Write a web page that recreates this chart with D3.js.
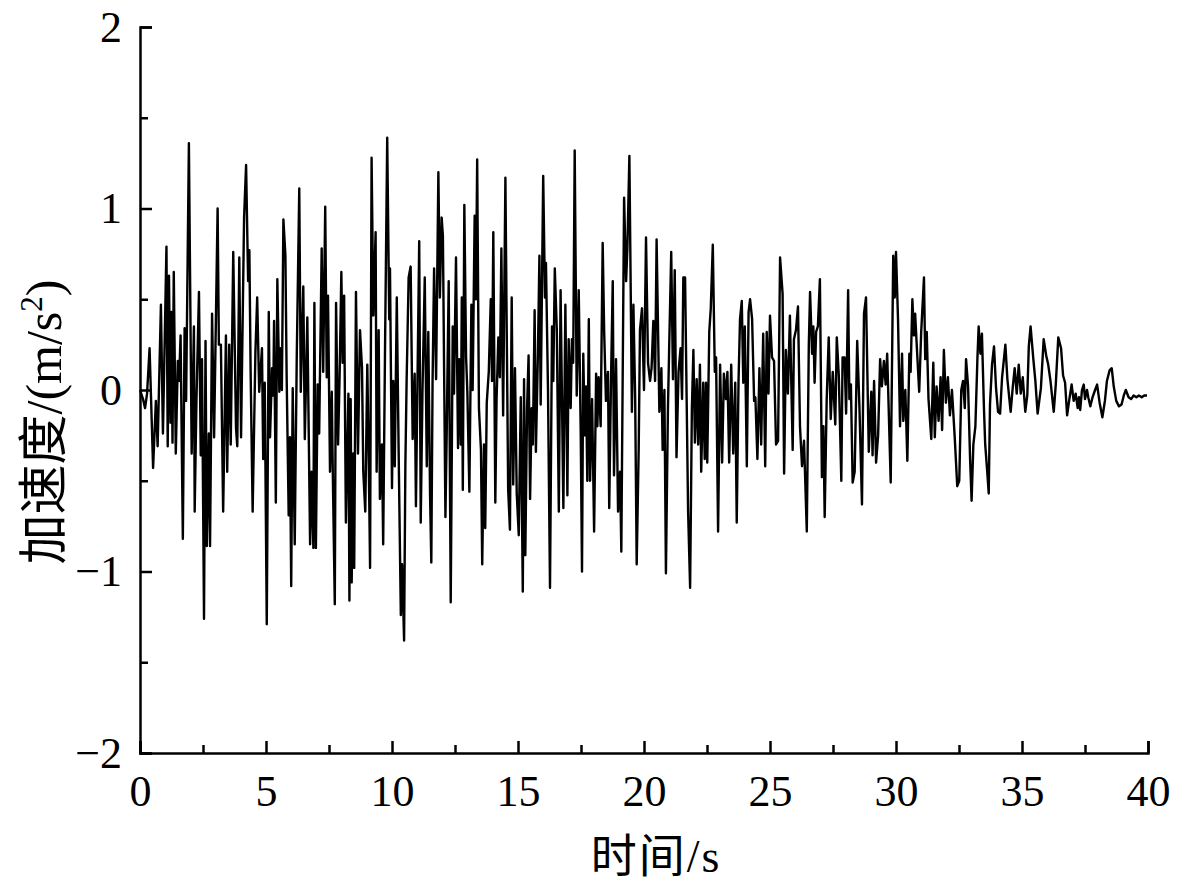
<!DOCTYPE html>
<html>
<head>
<meta charset="utf-8">
<script src="https://cdn.jsdelivr.net/npm/d3@7/dist/d3.min.js"></script>
<style>
  html, body { margin: 0; padding: 0; background: #fff; }
  svg { display: block; }
  .tick text { font-family: "Liberation Serif", "Times New Roman", serif; }
</style>
</head>
<body>
<svg id="chart" width="1184" height="885"></svg>
<script>
// ---- data ----
const time = [
0.00,0.12,0.20,0.28,0.38,0.52,0.63,0.70,0.83,0.91,1.05,1.10,1.15,1.21,1.25,1.29,1.34,1.42,1.50,1.55,
1.61,1.70,1.77,1.83,1.94,2.05,2.14,2.17,2.24,2.34,2.41,2.46,2.54,2.60,2.65,2.73,2.78,2.86,2.94,3.08,
3.13,3.21,3.30,3.41,3.46,3.54,3.60,3.70,3.81,3.86,3.94,4.01,4.13,4.21,4.29,4.34,4.39,4.47,4.58,4.65,
4.73,4.84,4.89,4.95,5.03,5.11,5.16,5.24,5.29,5.32,5.39,5.45,5.53,5.58,5.63,5.69,5.77,5.82,5.90,5.95,
6.00,6.06,6.14,6.22,6.32,6.38,6.48,6.54,6.64,6.75,6.81,6.88,6.92,6.98,7.05,7.11,7.21,7.27,7.35,7.41,
7.46,7.54,7.61,7.65,7.73,7.78,7.86,7.92,7.99,8.04,8.10,8.17,8.27,8.31,8.36,8.40,8.46,8.50,8.57,8.65,
8.73,8.81,8.86,8.94,9.02,9.08,9.13,9.19,9.26,9.35,9.39,9.47,9.52,9.60,9.65,9.72,9.81,9.89,9.92,10.00,
10.05,10.11,10.19,10.26,10.35,10.40,10.48,10.53,10.58,10.66,10.74,10.82,10.90,10.95,11.08,11.14,11.21,11.30,11.38,11.44,
11.51,11.56,11.61,11.67,11.75,11.84,11.90,11.97,12.02,12.12,12.17,12.25,12.33,12.41,12.46,12.54,12.62,12.67,12.73,12.77,
12.81,12.87,12.94,12.99,13.07,13.15,13.20,13.28,13.33,13.38,13.45,13.53,13.58,13.65,13.70,13.76,13.84,13.92,13.97,14.02,
14.10,14.15,14.22,14.28,14.34,14.41,14.50,14.55,14.61,14.68,14.75,14.81,14.88,14.95,15.03,15.11,15.19,15.24,15.29,15.36,
15.42,15.48,15.54,15.59,15.66,15.71,15.79,15.85,15.90,16.00,16.07,16.11,16.19,16.27,16.35,16.40,16.46,16.54,16.62,16.69,
16.80,16.88,16.96,17.01,17.09,17.14,17.19,17.25,17.33,17.41,17.49,17.54,17.59,17.65,17.70,17.75,17.81,17.86,17.94,18.02,
18.10,18.15,18.20,18.28,18.36,18.42,18.49,18.57,18.62,18.69,18.76,18.81,18.89,18.97,19.05,19.10,19.21,19.29,19.34,19.42,
19.52,19.58,19.65,19.71,19.79,19.84,19.92,20.00,20.08,20.16,20.24,20.30,20.37,20.44,20.50,20.61,20.69,20.74,20.81,20.87,
20.95,21.00,21.08,21.15,21.22,21.29,21.37,21.45,21.51,21.56,21.63,21.75,21.83,21.90,21.96,22.02,22.09,22.15,22.22,22.27,
22.35,22.41,22.46,22.51,22.59,22.65,22.73,22.81,22.86,22.94,23.02,23.10,23.17,23.25,23.31,23.38,23.46,23.54,23.62,23.68,
23.75,23.81,23.88,23.94,24.00,24.08,24.15,24.21,24.29,24.37,24.42,24.50,24.58,24.65,24.73,24.81,24.87,24.94,25.00,25.08,
25.16,25.24,25.32,25.40,25.50,25.56,25.63,25.71,25.79,25.90,25.95,26.03,26.11,26.19,26.27,26.35,26.46,26.54,26.59,26.67,
26.72,26.77,26.83,26.90,26.98,27.06,27.12,27.17,27.25,27.33,27.41,27.49,27.59,27.65,27.73,27.83,27.88,27.96,28.02,28.10,
28.15,28.21,28.28,28.36,28.46,28.55,28.65,28.73,28.81,28.92,29.02,29.07,29.13,29.21,29.29,29.37,29.44,29.52,29.59,29.65,
29.79,29.89,29.95,30.00,30.08,30.16,30.24,30.29,30.37,30.45,30.53,30.58,30.65,30.71,30.76,30.84,30.92,31.00,31.11,31.16,
31.22,31.29,31.40,31.48,31.54,31.61,31.69,31.77,31.83,31.90,31.98,32.06,32.14,32.22,32.33,32.43,32.51,32.59,32.66,32.73,
32.78,32.86,32.94,33.00,33.07,33.15,33.23,33.28,33.35,33.41,33.49,33.54,33.62,33.68,33.73,33.81,33.89,33.97,34.05,34.13,
34.21,34.34,34.42,34.55,34.63,34.71,34.79,34.87,34.95,35.03,35.13,35.21,35.27,35.34,35.45,35.53,35.62,35.75,35.86,35.96,
36.04,36.13,36.26,36.34,36.44,36.55,36.63,36.71,36.79,36.88,36.97,37.05,37.13,37.21,37.26,37.31,37.38,37.45,37.50,37.58,
37.63,37.71,37.80,37.90,37.98,38.08,38.19,38.29,38.37,38.48,38.56,38.64,38.74,38.85,38.95,39.04,39.12,39.23,39.33,39.43,
39.54,39.64,39.75,39.85,39.96
];
const accel = [
0.00,-0.05,-0.10,-0.02,0.23,-0.43,-0.06,-0.31,0.47,-0.24,0.79,-0.31,0.63,-0.18,0.43,-0.29,0.65,-0.35,0.16,0.05,
0.30,-0.82,0.34,-0.06,1.36,-0.35,0.35,-0.67,-0.06,0.54,-0.36,0.17,-1.26,0.27,-0.86,-0.24,-0.86,0.42,-0.26,1.00,
0.25,0.25,-0.67,0.30,-0.45,0.25,-0.30,0.76,-0.21,-0.31,0.73,-0.26,0.95,1.24,0.60,0.77,0.10,-0.67,0.21,0.51,
-0.01,0.23,-0.38,0.04,-1.29,0.43,-0.26,0.12,-0.03,0.38,-0.62,0.61,-0.01,0.23,0.00,0.94,0.74,0.07,-0.69,-0.26,
-1.08,0.01,-0.85,0.18,1.11,-0.01,0.57,-0.27,0.40,-0.85,-0.45,-0.87,0.48,-0.87,0.03,-0.24,0.78,0.10,1.01,0.07,
0.52,-0.45,-0.01,-0.45,-1.18,0.48,-0.30,0.07,0.65,0.15,0.52,-0.73,-0.02,-1.16,-0.05,-1.06,-0.35,-0.98,0.54,-0.35,
0.33,0.12,-0.45,-0.67,0.14,-0.42,-0.98,1.28,0.41,0.87,-0.45,0.33,-0.60,-0.30,-0.85,0.18,1.39,0.39,0.67,-0.54,
0.05,-0.42,0.51,-0.30,-1.24,-0.96,-1.38,-0.42,0.05,0.62,0.68,-0.27,0.09,-0.64,0.82,-0.73,0.00,0.62,-0.42,0.32,
-0.58,-0.95,0.05,0.67,0.06,1.20,0.51,0.95,0.85,-0.70,-0.25,0.60,-1.17,0.35,-0.02,0.73,-0.32,0.17,-0.30,0.51,
-0.55,1.02,0.18,-0.01,-0.56,0.47,0.00,0.96,0.50,1.27,-0.10,-0.33,-0.96,-0.30,-0.76,-0.07,0.10,0.50,0.05,0.87,
-0.62,-0.05,0.29,0.07,0.78,-0.14,1.17,0.37,-0.55,-0.77,0.51,-0.52,0.12,-0.57,-0.80,-0.04,-1.11,0.06,-0.91,-0.10,
0.19,-0.60,-0.10,-0.30,0.44,-0.34,0.20,0.74,-0.08,1.18,0.51,0.70,0.00,-1.09,0.35,0.05,0.67,0.33,-0.67,0.55,
-0.65,0.47,-0.58,0.28,-0.10,0.28,0.15,1.32,-0.03,0.55,-0.25,-1.00,0.20,-0.25,0.02,-0.50,0.39,-0.50,-0.05,-0.78,
0.09,-0.20,0.07,-0.20,0.81,0.32,-0.06,0.10,-0.65,0.05,0.60,-0.47,0.17,-0.67,-0.45,-0.89,1.06,0.60,0.78,1.29,
-0.12,0.47,-0.05,-0.96,-0.32,0.33,0.45,0.00,0.84,0.15,0.05,0.12,0.38,0.05,0.83,-0.12,0.12,-0.33,0.00,-1.01,
-0.10,0.24,0.76,0.06,0.66,-0.37,0.10,0.23,-0.05,0.62,0.62,-0.67,-1.09,-0.10,0.22,-0.29,0.06,-0.30,0.14,-0.45,
0.04,-0.38,0.04,-0.40,0.32,0.45,0.80,0.10,0.18,-0.78,0.14,-0.40,0.09,-0.05,0.10,-0.40,0.14,-0.35,0.04,-0.73,
0.04,0.39,0.49,0.04,0.35,-0.42,0.43,0.50,0.39,-0.06,-0.04,-0.38,0.12,-0.30,0.31,-0.42,0.32,-0.02,0.41,0.18,
0.16,-0.30,-0.28,0.73,0.53,-0.46,0.22,-0.02,0.41,-0.33,0.28,0.33,0.46,-0.20,-0.42,-0.28,-0.78,0.25,0.54,0.20,
0.35,0.04,0.32,0.35,0.61,-0.48,-0.20,-0.70,-0.05,0.29,-0.16,0.10,-0.19,0.29,0.08,-0.50,0.18,0.18,-0.13,0.55,
-0.05,0.03,-0.51,-0.45,0.27,-0.10,-0.63,0.42,0.51,-0.34,-0.01,-0.36,0.05,-0.40,-0.25,0.17,0.02,0.16,0.03,0.20,
-0.51,0.74,0.51,0.76,0.39,-0.20,0.20,-0.17,0.00,-0.39,0.20,0.10,0.50,0.30,0.42,0.20,-0.01,0.32,0.62,0.17,
0.32,-0.05,-0.27,0.15,-0.26,0.02,-0.17,0.07,-0.22,0.22,-0.07,0.07,-0.14,0.00,-0.26,-0.53,-0.50,0.00,0.05,-0.10,
0.17,0.02,-0.38,-0.61,-0.30,-0.20,0.17,0.35,0.20,0.31,-0.10,-0.30,-0.45,-0.57,-0.08,0.14,0.24,0.01,-0.12,-0.13,
0.07,0.25,0.06,-0.12,0.01,0.12,-0.02,0.14,-0.02,0.07,-0.12,-0.03,0.24,0.35,0.17,0.05,-0.13,0.01,0.28,0.19,
0.14,0.05,-0.12,0.03,0.29,0.23,0.08,0.04,-0.14,-0.05,0.03,-0.06,-0.02,-0.10,-0.04,-0.11,0.00,0.03,-0.05,0.00,
-0.04,-0.09,-0.04,0.00,0.03,-0.07,-0.15,-0.06,0.05,0.11,0.12,0.02,-0.06,-0.09,-0.08,-0.03,0.00,-0.04,-0.05,-0.03,
-0.04,-0.03,-0.04,-0.03,-0.03
];
const xTicks = [0, 5, 10, 15, 20, 25, 30, 35, 40];
const xMinorTicks = [2.5, 7.5, 12.5, 17.5, 22.5, 27.5, 32.5, 37.5];
const yTicks = [-2, -1, 0, 1, 2];
const yMinorTicks = [-1.5, -0.5, 0.5, 1.5];

// ---- drawing ----
const svg = d3.select("#chart");
const x = d3.scaleLinear().domain([0, 40]).range([140, 1148]);
const y = d3.scaleLinear().domain([-2, 2]).range([753, 27]);
const data = time.map((t, i) => [t, accel[i]]);

const fontSize = 44;
svg.append("g").attr("transform", "translate(0,753)")
  .call(d3.axisBottom(x).tickValues(xTicks).tickSize(-12).tickPadding(22).tickFormat(d3.format("d")));
svg.append("g").attr("transform", "translate(0,753)")
  .call(d3.axisBottom(x).tickValues(xMinorTicks).tickSize(-8).tickFormat(""))
  .select(".domain").remove();
svg.append("g").attr("transform", "translate(140,0)")
  .call(d3.axisLeft(y).tickValues(yTicks).tickSize(-12).tickPadding(18).tickFormat(d3.format("d")));
svg.append("g").attr("transform", "translate(140,0)")
  .call(d3.axisLeft(y).tickValues(yMinorTicks).tickSize(-8).tickFormat(""))
  .select(".domain").remove();

svg.selectAll(".tick text").attr("font-size", fontSize).attr("fill", "#000");
svg.selectAll(".tick line").attr("stroke", "#000").attr("stroke-width", 2.5);
svg.selectAll(".domain").attr("stroke", "#000").attr("stroke-width", 2.5);

svg.append("path").datum(data)
  .attr("fill", "none").attr("stroke", "#000").attr("stroke-width", 2.4)
  .attr("stroke-linejoin", "round")
  .attr("d", d3.line().x(d => x(d[0])).y(d => y(d[1])));

// x-axis title
const xt = svg.append("text").attr("x", 656).attr("y", 872).attr("text-anchor", "middle")
  .attr("font-size", 46).attr("letter-spacing", 2).attr("fill", "#000");
xt.append("tspan").attr("font-family", "'Noto Sans CJK SC'").text("时间");
xt.append("tspan").attr("font-family", "'Liberation Serif', serif").text("/s");

// y-axis title
const yt = svg.append("text").attr("transform", "translate(61,422) rotate(-90)")
  .attr("text-anchor", "middle").attr("font-size", 50).attr("fill", "#000");
yt.append("tspan").attr("font-family", "'Noto Sans CJK SC'").text("加速度");
yt.append("tspan").attr("font-family", "'Liberation Serif', serif").text("/(m/s");
yt.append("tspan").attr("font-family", "'Liberation Serif', serif").attr("font-size", 31).attr("dy", -19).text("2");
yt.append("tspan").attr("font-family", "'Liberation Serif', serif").attr("dy", 19).text(")");
</script>
</body>
</html>
